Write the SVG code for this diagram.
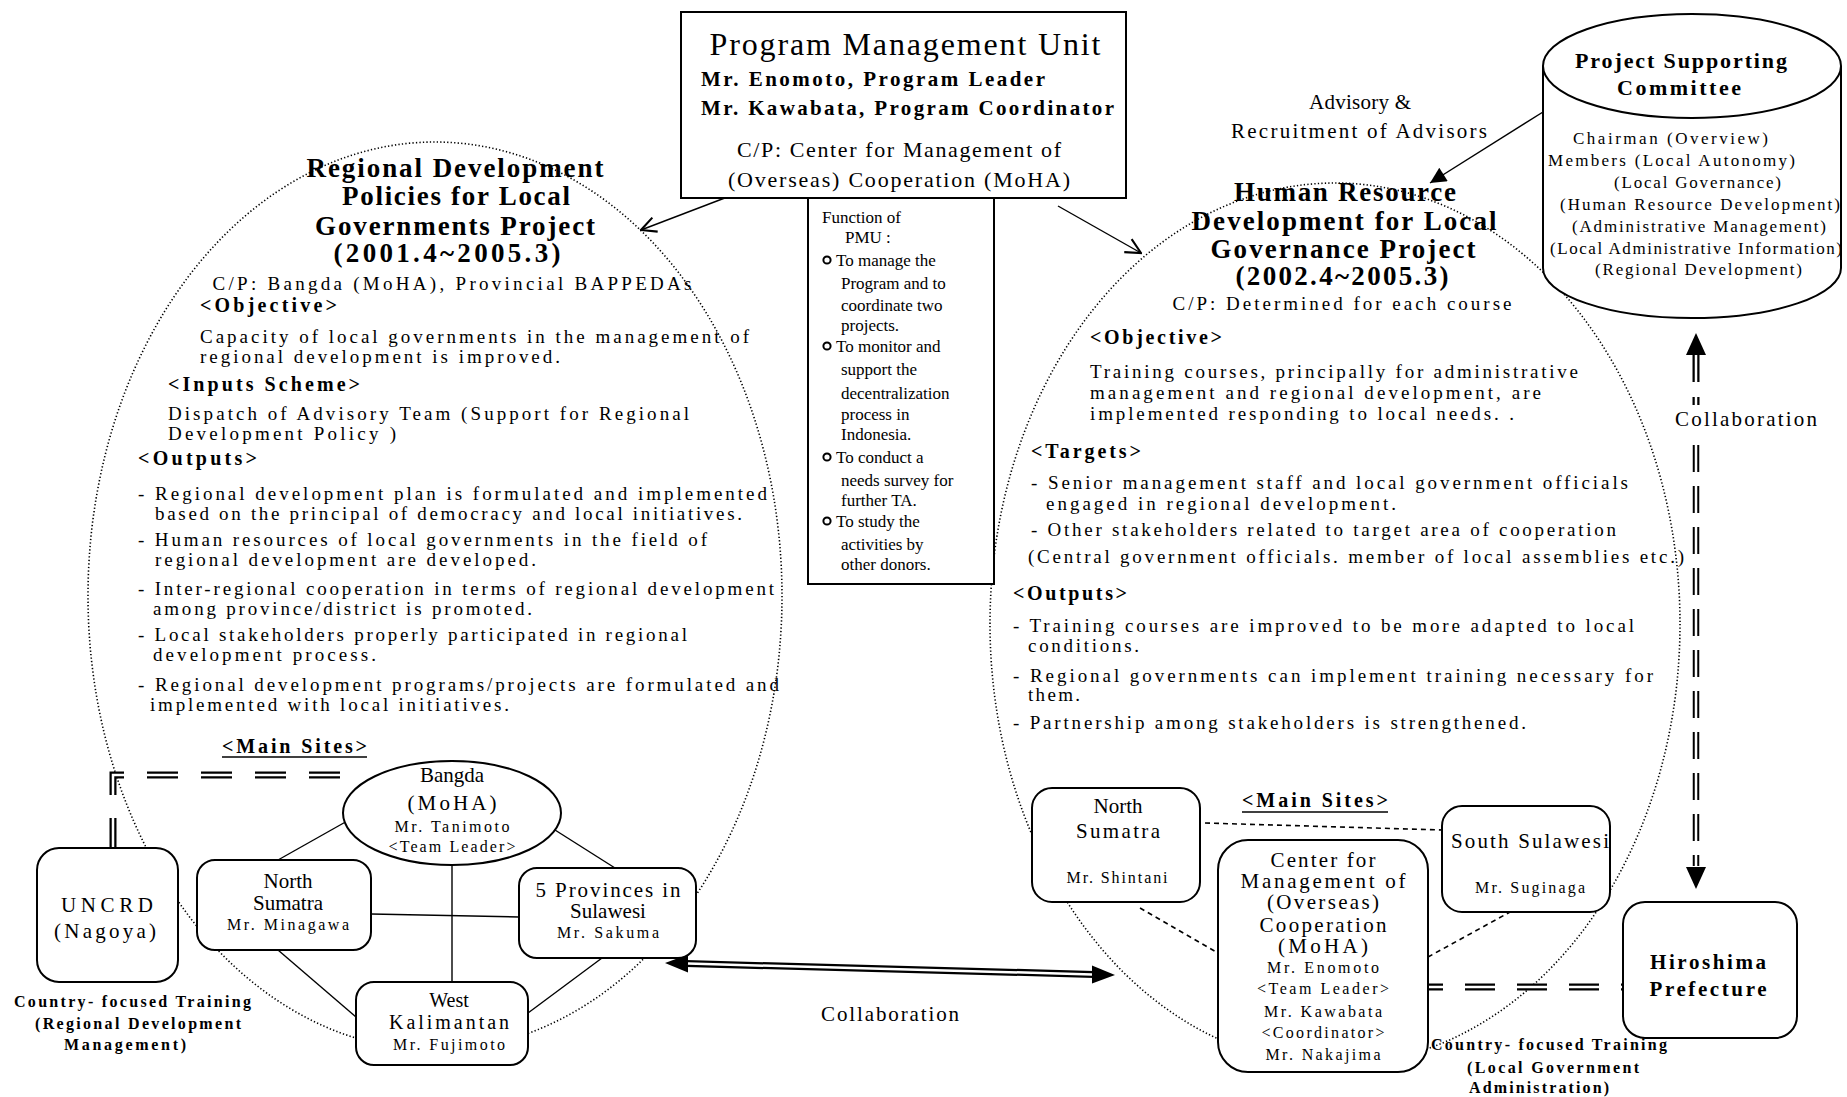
<svg xmlns="http://www.w3.org/2000/svg" width="1847" height="1097" viewBox="0 0 1847 1097">
<defs>
<style>
text{font-family:"Liberation Serif","Times New Roman",serif;fill:#000}
.b{font-weight:bold}
.ti{font-size:27px;font-weight:bold}
.bd{font-size:19px}
.hd{font-size:20px;font-weight:bold}
.fn{font-size:17px}
.st{font-size:21px}
.sm{font-size:16px}
.cf{font-size:16px;font-weight:bold}
.cy{font-size:17px}
.dot{fill:none;stroke:#000;stroke-width:1.6;stroke-dasharray:1.3 2.2}
.box{fill:#fff;stroke:#000;stroke-width:2}
.ln{fill:none;stroke:#000;stroke-width:1.4}
.dl{fill:none;stroke:#000;stroke-width:1.6;stroke-dasharray:5 4}
.m{text-anchor:middle}
</style>
<marker id="open" viewBox="0 0 12 12" refX="11" refY="6" markerWidth="18" markerHeight="18" markerUnits="userSpaceOnUse" orient="auto"><path d="M1,1 L11,6 L1,11" fill="none" stroke="#000" stroke-width="1.4"/></marker>
<marker id="solid" viewBox="0 0 10 10" refX="10" refY="5" markerWidth="20" markerHeight="16" markerUnits="userSpaceOnUse" orient="auto"><path d="M0,0 L10,5 L0,10 z" fill="#000"/></marker>
</defs>
<rect width="1847" height="1097" fill="#fff"/>

<g id="left-project">
<ellipse class="dot" cx="435" cy="596" rx="347" ry="454"/>
<text class="ti m" x="455" y="177" textLength="297">Regional Development</text>
<text class="ti m" x="456" y="205" textLength="228">Policies for Local</text>
<text class="ti m" x="455" y="235" textLength="280">Governments Project</text>
<text class="ti m" x="447" y="262" textLength="227">(2001.4~2005.3)</text>
<text class="bd m" x="452" y="290" textLength="479">C/P: Bangda (MoHA), Provincial BAPPEDAs</text>
<text class="hd" x="200" y="312" textLength="137">&lt;Objective&gt;</text>
<text class="bd" x="200" y="343" textLength="549">Capacity of local governments in the management of</text>
<text class="bd" x="200" y="363" textLength="360">regional development is improved.</text>
<text class="hd" x="168" y="391" textLength="192">&lt;Inputs Scheme&gt;</text>
<text class="bd" x="168" y="420" textLength="521">Dispatch of Advisory Team (Support for Regional</text>
<text class="bd" x="168" y="440" textLength="228">Development Policy )</text>
<text class="hd" x="138" y="465" textLength="119">&lt;Outputs&gt;</text>
<text class="bd" x="138" y="500" textLength="629">- Regional development plan is formulated and implemented</text>
<text class="bd" x="155" y="520" textLength="587">based on the principal of democracy and local initiatives.</text>
<text class="bd" x="138" y="546" textLength="569">- Human resources of local governments in the field of</text>
<text class="bd" x="155" y="566" textLength="381">regional development are developed.</text>
<text class="bd" x="138" y="595" textLength="636">- Inter-regional cooperation in terms of regional development</text>
<text class="bd" x="153" y="615" textLength="379">among province/district is promoted.</text>
<text class="bd" x="138" y="641" textLength="549">- Local stakeholders properly participated in regional</text>
<text class="bd" x="153" y="661" textLength="223">development process.</text>
<text class="bd" x="138" y="691" textLength="641">- Regional development programs/projects are formulated and</text>
<text class="bd" x="150" y="711" textLength="359">implemented with local initiatives.</text>
<text class="hd" x="222" y="753" textLength="145">&lt;Main Sites&gt;</text>
<line x1="222" y1="757" x2="367" y2="757" stroke="#000" stroke-width="1.5"/>
</g>

<g id="right-project">
<ellipse class="dot" cx="1335" cy="624" rx="345" ry="441"/>
<text class="ti m" x="1345" y="201" textLength="222">Human Resource</text>
<text class="ti m" x="1344" y="230" textLength="305">Development for Local</text>
<text class="ti m" x="1343" y="258" textLength="265">Governance Project</text>
<text class="ti m" x="1342" y="285" textLength="213">(2002.4~2005.3)</text>
<text class="bd m" x="1342" y="310" textLength="339">C/P: Determined for each course</text>
<text class="hd" x="1090" y="344" textLength="132">&lt;Objective&gt;</text>
<text class="bd" x="1090" y="378" textLength="488">Training courses, principally for administrative</text>
<text class="bd" x="1090" y="399" textLength="451">management and regional development, are</text>
<text class="bd" x="1090" y="420" textLength="424">implemented responding to local needs. .</text>
<text class="hd" x="1031" y="458" textLength="110">&lt;Targets&gt;</text>
<text class="bd" x="1031" y="489" textLength="597">- Senior management staff and local government officials</text>
<text class="bd" x="1046" y="510" textLength="350">engaged in regional development.</text>
<text class="bd" x="1031" y="536" textLength="585">- Other stakeholders related to target area of cooperation</text>
<text class="bd" x="1028" y="563" textLength="656">(Central government officials. member of local assemblies etc.)</text>
<text class="hd" x="1013" y="600" textLength="114">&lt;Outputs&gt;</text>
<text class="bd" x="1013" y="632" textLength="621">- Training courses are improved to be more adapted to local</text>
<text class="bd" x="1028" y="652" textLength="111">conditions.</text>
<text class="bd" x="1013" y="682" textLength="640">- Regional governments can implement training necessary for</text>
<text class="bd" x="1028" y="701" textLength="52">them.</text>
<text class="bd" x="1013" y="729" textLength="513">- Partnership among stakeholders is strengthened.</text>
<text class="hd" x="1242" y="807" textLength="146">&lt;Main Sites&gt;</text>
<line x1="1242" y1="812" x2="1388" y2="812" stroke="#000" stroke-width="1.5"/>
</g>

<g id="connectors">
<line class="ln" x1="730" y1="196" x2="641" y2="230" marker-end="url(#open)"/>
<line class="ln" x1="1058" y1="206" x2="1141" y2="253" marker-end="url(#open)"/>
<line class="ln" x1="1543" y1="112" x2="1430" y2="183" stroke-width="1.6" marker-end="url(#solid)"/>
<line class="ln" x1="349" y1="820" x2="278" y2="860"/>
<line class="ln" x1="555" y1="830" x2="615" y2="868"/>
<line class="ln" x1="452" y1="865" x2="452" y2="982"/>
<line class="ln" x1="371" y1="914" x2="519" y2="917"/>
<line class="ln" x1="278" y1="950" x2="356" y2="1017"/>
<line class="ln" x1="602" y1="958" x2="528" y2="1013"/>
<line class="dl" x1="1205" y1="823" x2="1442" y2="830"/>
<line class="dl" x1="1140" y1="908" x2="1218" y2="953"/>
<line class="dl" x1="1428" y1="957" x2="1510" y2="912"/>
<path d="M340,775 H113 V848" fill="none" stroke="#000" stroke-width="7" stroke-dasharray="31 23"/>
<path d="M340,775 H113 V848" fill="none" stroke="#fff" stroke-width="2.5" stroke-dasharray="31 23"/>
<path d="M1428,987 H1623" fill="none" stroke="#000" stroke-width="7" stroke-dasharray="30 22" stroke-dashoffset="15"/>
<path d="M1428,987 H1623" fill="none" stroke="#fff" stroke-width="2.5" stroke-dasharray="30 22" stroke-dashoffset="15"/>
<polygon points="665,963 688,954.6 688,972.6" fill="#000"/>
<polygon points="1115,975 1092,965.4 1092,983.4" fill="#000"/>
<line x1="686" y1="963.6" x2="1094" y2="974.4" stroke="#000" stroke-width="7"/>
<line x1="688" y1="963.6" x2="1092" y2="974.4" stroke="#fff" stroke-width="2.5"/>
<polygon points="1696,333 1686,355 1706,355" fill="#000"/>
<line x1="1696" y1="353" x2="1696" y2="382" stroke="#000" stroke-width="7"/>
<line x1="1696" y1="355" x2="1696" y2="382" stroke="#fff" stroke-width="2.5"/>
<line x1="1696" y1="397" x2="1696" y2="405" stroke="#000" stroke-width="7"/>
<line x1="1696" y1="397" x2="1696" y2="405" stroke="#fff" stroke-width="2.5"/>
<line x1="1696" y1="445" x2="1696" y2="866" stroke="#000" stroke-width="6.5" stroke-dasharray="27 14"/>
<line x1="1696" y1="445" x2="1696" y2="866" stroke="#fff" stroke-width="2.5" stroke-dasharray="27 14"/>
<polygon points="1696,889 1686,867 1706,867" fill="#000"/>
</g>

<g id="pmu">
<rect class="box" x="681" y="12" width="445" height="186" stroke-width="1.8"/>
<text class="m" x="905" y="55" font-size="32" textLength="391">Program Management Unit</text>
<text class="b" x="701" y="86" font-size="21" textLength="344">Mr. Enomoto, Program Leader</text>
<text class="b" x="701" y="115" font-size="21" textLength="413">Mr. Kawabata, Program Coordinator</text>
<text class="m" x="899" y="157" font-size="22" textLength="324">C/P: Center for Management of</text>
<text class="m" x="899" y="187" font-size="22" textLength="342">(Overseas) Cooperation (MoHA)</text>
</g>

<g id="pmu-function">
<rect class="box" x="808" y="198" width="186" height="386" stroke-width="1.6"/>
<text class="fn" x="822" y="223">Function of</text>
<text class="fn" x="845" y="243">PMU :</text>
<circle cx="827" cy="260" r="3.6" fill="none" stroke="#000" stroke-width="2"/>
<text class="fn" x="836" y="266">To manage the</text>
<text class="fn" x="841" y="289">Program and to</text>
<text class="fn" x="841" y="311">coordinate two</text>
<text class="fn" x="841" y="331">projects.</text>
<circle cx="827" cy="346" r="3.6" fill="none" stroke="#000" stroke-width="2"/>
<text class="fn" x="836" y="352">To monitor and</text>
<text class="fn" x="841" y="375">support the</text>
<text class="fn" x="841" y="399">decentralization</text>
<text class="fn" x="841" y="420">process in</text>
<text class="fn" x="841" y="440">Indonesia.</text>
<circle cx="827" cy="457" r="3.6" fill="none" stroke="#000" stroke-width="2"/>
<text class="fn" x="836" y="463">To conduct a</text>
<text class="fn" x="841" y="486">needs survey for</text>
<text class="fn" x="841" y="506">further TA.</text>
<circle cx="827" cy="521" r="3.6" fill="none" stroke="#000" stroke-width="2"/>
<text class="fn" x="836" y="527">To study the</text>
<text class="fn" x="841" y="550">activities by</text>
<text class="fn" x="841" y="570">other donors.</text>
</g>

<g id="committee">
<path class="box" d="M1543,66 V268 A149,50 0 0 0 1841,268 V66"/>
<ellipse class="box" cx="1692" cy="66" rx="149" ry="52"/>
<text class="b m" x="1681" y="68" font-size="22" textLength="212">Project Supporting</text>
<text class="b m" x="1679" y="95" font-size="22" textLength="124">Committee</text>
<text class="cy" x="1573" y="144" textLength="195">Chairman  (Overview)</text>
<text class="cy" x="1548" y="166" textLength="247">Members (Local Autonomy)</text>
<text class="cy" x="1614" y="188" textLength="167">(Local Governance)</text>
<text class="cy" x="1560" y="210" textLength="280">(Human Resource Development)</text>
<text class="cy" x="1572" y="232" textLength="254">(Administrative Management)</text>
<text class="cy" x="1550" y="254" textLength="292">(Local Administrative Information)</text>
<text class="cy" x="1595" y="275" textLength="207">(Regional Development)</text>
</g>

<g id="labels">
<text class="m" x="1360" y="109" font-size="21" textLength="102">Advisory &amp;</text>
<text class="m" x="1359" y="138" font-size="21" textLength="256">Recruitment of Advisors</text>
<text class="m" x="890" y="1021" font-size="21" textLength="138">Collaboration</text>
<text class="m" x="1746" y="426" font-size="21" textLength="142">Collaboration</text>
<text class="cf" x="14" y="1007" textLength="237">Country- focused Training</text>
<text class="cf m" x="138" y="1029" textLength="206">(Regional Development</text>
<text class="cf m" x="125" y="1050" textLength="122">Management)</text>
<text class="cf" x="1431" y="1050" textLength="236">Country- focused Training</text>
<text class="cf m" x="1553" y="1073" textLength="172">(Local Government</text>
<text class="cf m" x="1539" y="1093" textLength="140">Administration)</text>
</g>

<g id="uncrd">
<rect class="box" x="37" y="848" width="141" height="134" rx="22"/>
<text class="st m" x="107" y="912" textLength="92">UNCRD</text>
<text class="st m" x="105" y="938" textLength="102">(Nagoya)</text>
</g>
<g id="bangda">
<ellipse class="box" cx="452" cy="813" rx="109" ry="52" stroke-width="1.8"/>
<text class="st m" x="452" y="782">Bangda</text>
<text class="st m" x="452" y="810" textLength="89">(MoHA)</text>
<text class="sm m" x="452" y="832" textLength="115">Mr. Tanimoto</text>
<text class="sm m" x="452" y="852" textLength="127">&lt;Team Leader&gt;</text>
</g>
<g id="north-sumatra-left">
<rect class="box" x="197" y="860" width="174" height="90" rx="18"/>
<text class="st m" x="288" y="888">North</text>
<text class="st m" x="288" y="910">Sumatra</text>
<text class="sm m" x="288" y="930" textLength="122">Mr. Minagawa</text>
</g>
<g id="five-provinces">
<rect class="box" x="519" y="868" width="177" height="90" rx="18"/>
<text class="st m" x="608" y="897" textLength="145">5 Provinces in</text>
<text class="st m" x="608" y="918">Sulawesi</text>
<text class="sm m" x="608" y="938" textLength="102">Mr. Sakuma</text>
</g>
<g id="west-kalimantan">
<rect class="box" x="356" y="982" width="172" height="83" rx="18"/>
<text class="m" x="449" y="1007" font-size="20">West</text>
<text class="m" x="449" y="1029" font-size="20" textLength="120">Kalimantan</text>
<text class="sm m" x="449" y="1050" textLength="112">Mr. Fujimoto</text>
</g>

<g id="north-sumatra-right">
<rect class="box" x="1032" y="788" width="168" height="114" rx="20"/>
<text class="st m" x="1118" y="813">North</text>
<text class="st m" x="1118" y="838" textLength="84">Sumatra</text>
<text class="sm m" x="1117" y="883" textLength="101">Mr. Shintani</text>
</g>
<g id="center-moha">
<rect class="box" x="1218" y="840" width="210" height="232" rx="30"/>
<text class="st m" x="1323" y="867" textLength="105">Center for</text>
<text class="st m" x="1323" y="888" textLength="165">Management of</text>
<text class="st m" x="1323" y="909" textLength="112">(Overseas)</text>
<text class="st m" x="1323" y="932" textLength="127">Cooperation</text>
<text class="st m" x="1323" y="953" textLength="90">(MoHA)</text>
<text class="sm m" x="1323" y="973" textLength="112">Mr. Enomoto</text>
<text class="sm m" x="1323" y="994" textLength="132">&lt;Team Leader&gt;</text>
<text class="sm m" x="1323" y="1017" textLength="118">Mr. Kawabata</text>
<text class="sm m" x="1323" y="1038" textLength="123">&lt;Coordinator&gt;</text>
<text class="sm m" x="1323" y="1060" textLength="115">Mr. Nakajima</text>
</g>
<g id="south-sulawesi">
<rect class="box" x="1442" y="806" width="168" height="106" rx="20"/>
<text class="st m" x="1530" y="848" textLength="158">South Sulawesi</text>
<text class="sm m" x="1530" y="893" textLength="110">Mr. Suginaga</text>
</g>
<g id="hiroshima">
<rect class="box" x="1623" y="902" width="174" height="136" rx="22"/>
<text class="b m" x="1708" y="969" font-size="21" textLength="116">Hiroshima</text>
<text class="b m" x="1708" y="996" font-size="21" textLength="117">Prefecture</text>
</g>
</svg>
